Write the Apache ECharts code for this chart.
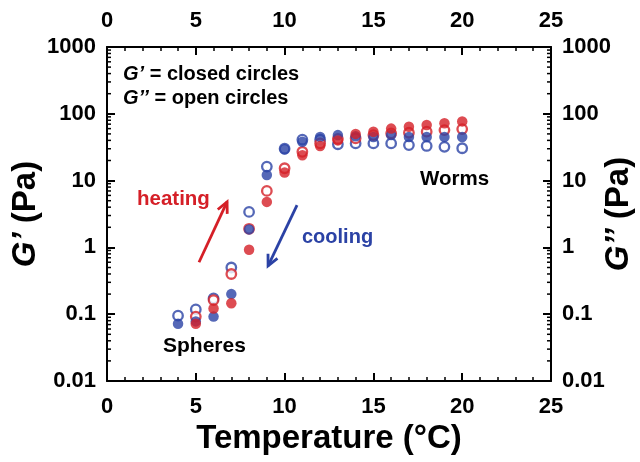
<!DOCTYPE html>
<html><head><meta charset="utf-8">
<script src="https://cdn.jsdelivr.net/npm/echarts@6/dist/echarts.min.js"></script>
<style>html,body{margin:0;padding:0;background:#fff}#c{width:640px;height:462px}</style>
</head><body><div id="c"></div>
<script>
const temps = [4,5,6,7,8,9,10,11,12,13,14,15,16,17,18,19,20];
const heatingGp  = [null,0.072,0.122,0.146,0.92,4.8,13.2,24,33,40,50,54,60,64,68,72,77];
const heatingGpp = [null,0.092,0.163,0.40,1.9,7.0,15.3,27,36,42,43,48,51,52,54,57,59];
const coolingGp  = [0.072,0.078,0.092,0.20,1.86,12.1,29.4,38,45,48,46,45,48,45,45,45,45];
const coolingGpp = [0.095,0.118,0.173,0.50,3.4,16.2,30,41,41,35,36,36,36,34,33,32,30.5];
const xTicks = [0,5,10,15,20,25];
const yTicks = [0.01,0.1,1,10,100,1000];

const RED = '#d51f27', BLUE = '#2b42a5';
const FONT = 'Arial, "Liberation Sans", sans-serif';
const pair = (xs, ys) => xs.map((x,i)=>[x, ys[i]]).filter(p=>p[1]!=null);

const chart = echarts.init(document.getElementById('c'), null, {renderer:'canvas'});
const axisLine = {show:true, onZero:false, lineStyle:{color:'#000', width:2}};
const lbl = {color:'#000', fontFamily:FONT, fontWeight:'bold', fontSize:22};
function xAxis(pos){
  return {type:'value', position:pos, min:xTicks[0], max:xTicks[xTicks.length-1], interval:5,
    axisLine, axisTick:{show:true, inside:true, length:8, lineStyle:{width:2,color:'#000'}},
    minorTick:{show:true, splitNumber:5, length:4, lineStyle:{width:1.5,color:'#000'}},
    axisLabel:Object.assign({margin:15}, lbl), splitLine:{show:false},
    name: pos==='bottom' ? 'Temperature (°C)' : '', nameLocation:'middle', nameGap:41,
    nameTextStyle:{color:'#000', fontFamily:FONT, fontWeight:'bold', fontSize:33}};
}
function yAxis(pos, nm, gap){
  return {type:'log', logBase:10, position:pos, min:yTicks[0], max:yTicks[yTicks.length-1],
    axisLine, axisTick:{show:true, inside:true, length:8, lineStyle:{width:2,color:'#000'}},
    axisLabel:Object.assign({margin:11, formatter:v=>String(v)}, lbl), splitLine:{show:false},
    name:nm, nameLocation:'middle', nameRotate:90, nameGap:gap, nameMoveOverlap:false,
    nameTextStyle:{color:'#000', fontFamily:FONT, fontWeight:'bold', fontSize:33,
      rich:{i:{fontStyle:'italic', fontWeight:'bold', fontSize:33, fontFamily:FONT, color:'#000'}}}};
}
function sc(name, data, color, open, z){
  return {type:'scatter', name, data, symbol:'circle', symbolSize: open?9.5:10.5, z,
    itemStyle: open ? {color:'#fff', borderColor:color, borderWidth:2.3} : {color:color, borderWidth:0}};
}
chart.setOption({
  animation:false,
  backgroundColor:'#fff',
  grid:{left:107, right:89, top:47, bottom:81, containLabel:false, outerBoundsMode:'none'},
  xAxis:[xAxis('bottom'), xAxis('top')],
  yAxis:[yAxis('left','{i|G’} (Pa)', 65), yAxis('right','{i|G’’} (Pa)', 51)],
  series:[
    sc('cooling G″', pair(temps,coolingGpp), BLUE, true, 2),
    sc('heating G″', pair(temps,heatingGpp), RED, true, 3),
    sc('cooling G′', pair(temps,coolingGp), BLUE, false, 4),
    sc('heating G′', pair(temps,heatingGp), RED, false, 5)
  ]
});

// log minor ticks + annotations
const P = (x,y)=>chart.convertToPixel({xAxisIndex:0,yAxisIndex:0},[x,y]);
const g = [];
const x0 = P(0,1)[0], x1 = P(25,1)[0];
for (let k=-2;k<3;k++) for (let m=2;m<10;m++){
  const y = P(0, m*Math.pow(10,k))[1];
  g.push({type:'line', shape:{x1:x0,y1:y,x2:x0+4,y2:y}, style:{stroke:'#000',lineWidth:1.5}, z:10});
  g.push({type:'line', shape:{x1:x1-4,y1:y,x2:x1,y2:y}, style:{stroke:'#000',lineWidth:1.5}, z:10});
}
function arrow(a, b, color){
  const pa = P(a[0],a[1]), pb = P(b[0],b[1]);
  const ang = Math.atan2(pb[1]-pa[1], pb[0]-pa[0]);
  const L = 12, s = 0.45;
  const h1 = [pb[0]-L*Math.cos(ang-s), pb[1]-L*Math.sin(ang-s)];
  const h2 = [pb[0]-L*Math.cos(ang+s), pb[1]-L*Math.sin(ang+s)];
  g.push({type:'polyline', shape:{points:[pa,pb]}, style:{stroke:color,lineWidth:2.8,fill:null}, z:10});
  g.push({type:'polyline', shape:{points:[h1,pb,h2]}, style:{stroke:color,lineWidth:2.8,fill:null,lineJoin:'miter'}, z:10});
}
arrow([5.18,0.60],[6.76,4.8], RED);
arrow([10.7,4.3],[9.07,0.53], BLUE);
const legendRich = {i:{fontStyle:'italic',fontWeight:'bold',fontSize:20,fontFamily:FONT,fill:'#000',color:'#000'},
                    n:{fontWeight:'bold',fontSize:20,fontFamily:FONT,fill:'#000',color:'#000'}};
function txt(x,y,text,color,size,rich){
  g.push({type:'text', x, y, z:10, style:{text, rich, font:'bold '+size+'px '+FONT, fill:color}});
}
txt(123,64,'{i|G’} {n|= closed circles}','#000',20,legendRich);
txt(123,88,'{i|G’’} {n|= open circles}','#000',20,legendRich);
txt(137,189,'heating',RED,20.5);
txt(302,227,'cooling',BLUE,20);
txt(420,169,'Worms','#000',20.5);
txt(163,336,'Spheres','#000',21);
chart.setOption({graphic:g});
</script></body></html>
